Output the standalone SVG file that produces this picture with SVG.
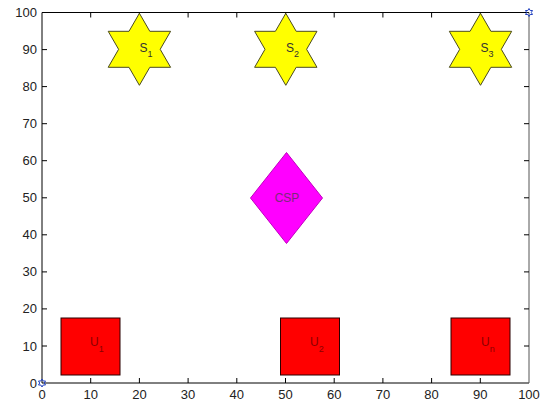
<svg xmlns="http://www.w3.org/2000/svg" width="549" height="405" viewBox="0 0 549 405">
<style>
.tick{stroke:#000;stroke-width:1;fill:none}
.tl{font-family:"Liberation Sans",Arial,sans-serif;font-size:13px;fill:#222}
.star{fill:#FFFF00;stroke:#4a4a20;stroke-width:1}
.sq{fill:#FF0000;stroke:#2a0000;stroke-width:1}
.dia{fill:#FF00FF;stroke:#c000c0;stroke-width:1}
.lbl{font-family:"Liberation Sans",Arial,sans-serif;font-size:12px}
.sub{font-size:9px}
.mk{fill:none;stroke:#2040c0;stroke-width:1}
</style>
<defs>
<path id="hex" d="M0,-36 L10.4,-18 L31.2,-18 L20.8,0 L31.2,18 L10.4,18 L0,36 L-10.4,18 L-31.2,18 L-20.8,0 L-31.2,-18 L-10.4,-18 Z"/>
<path id="mini" d="M0,-4 L1.2,-2 L3.5,-2 L2.3,0 L3.5,2 L1.2,2 L0,4 L-1.2,2 L-3.5,2 L-2.3,0 L-3.5,-2 L-1.2,-2 Z"/>
</defs>
<rect width="549" height="405" fill="#fff"/>
<g id="axes">
<line x1="42" y1="12.5" x2="529" y2="12.5" stroke="#000"/>
<line x1="42" y1="12.5" x2="42" y2="383" stroke="#000"/>
<line x1="42" y1="383" x2="529" y2="383" stroke="#000"/>
<line x1="529" y1="12.5" x2="529" y2="383" stroke="#555"/>
<path class="tick" d="M90.7,383v-5M139.4,383v-5M188.1,383v-5M236.8,383v-5M285.5,383v-5M334.2,383v-5M382.9,383v-5M431.6,383v-5M480.3,383v-5
M90.7,12.5v5M139.4,12.5v5M188.1,12.5v5M236.8,12.5v5M285.5,12.5v5M334.2,12.5v5M382.9,12.5v5M431.6,12.5v5M480.3,12.5v5
M42,346h5M42,308.9h5M42,271.9h5M42,234.8h5M42,197.8h5M42,160.7h5M42,123.7h5M42,86.6h5M42,49.6h5
M529,346h-5M529,308.9h-5M529,271.9h-5M529,234.8h-5M529,197.8h-5M529,160.7h-5M529,123.7h-5M529,86.6h-5M529,49.6h-5"/>
<g class="tl" text-anchor="middle">
<text x="42" y="399">0</text><text x="90.7" y="399">10</text><text x="139.4" y="399">20</text><text x="188.1" y="399">30</text><text x="236.8" y="399">40</text><text x="285.5" y="399">50</text><text x="334.2" y="399">60</text><text x="382.9" y="399">70</text><text x="431.6" y="399">80</text><text x="480.3" y="399">90</text><text x="529" y="399">100</text>
</g>
<g class="tl" text-anchor="end">
<text x="37" y="387.5">0</text><text x="37" y="350.5">10</text><text x="37" y="313.4">20</text><text x="37" y="276.4">30</text><text x="37" y="239.3">40</text><text x="37" y="202.3">50</text><text x="37" y="165.2">60</text><text x="37" y="128.2">70</text><text x="37" y="91.1">80</text><text x="37" y="54.1">90</text><text x="37" y="17">100</text>
</g>
<use href="#mini" class="mk" x="42" y="383"/>
<use href="#mini" class="mk" x="529" y="12.5"/>
</g>
<g id="connectors"></g>
<g id="S1">
<use href="#hex" class="star" x="139.4" y="49.3"/>
<text class="lbl" x="139.5" y="52" fill="#333">S<tspan class="sub" dy="5">1</tspan></text>
</g>
<g id="S2">
<use href="#hex" class="star" x="285.8" y="49.3"/>
<text class="lbl" x="286" y="52" fill="#333">S<tspan class="sub" dy="5">2</tspan></text>
</g>
<g id="S3">
<use href="#hex" class="star" x="480.5" y="49.3"/>
<text class="lbl" x="480.5" y="52" fill="#333">S<tspan class="sub" dy="5">3</tspan></text>
</g>
<g id="CSP">
<path class="dia" d="M286.5,152.5 L322.5,198 L286.5,243.5 L250.5,198 Z"/>
<text class="lbl" x="287" y="201.5" text-anchor="middle" fill="#7a2a7a">CSP</text>
</g>
<g id="U1">
<rect class="sq" x="61" y="318" width="59" height="57"/>
<text class="lbl" x="90" y="346" fill="#8a0000">U<tspan class="sub" dy="6">1</tspan></text>
</g>
<g id="U2">
<rect class="sq" x="280.5" y="318" width="59" height="57"/>
<text class="lbl" x="310" y="346" fill="#8a0000">U<tspan class="sub" dy="6">2</tspan></text>
</g>
<g id="Un">
<rect class="sq" x="451" y="318" width="59" height="57"/>
<text class="lbl" x="481" y="346" fill="#8a0000">U<tspan class="sub" dy="6">n</tspan></text>
</g>
</svg>
